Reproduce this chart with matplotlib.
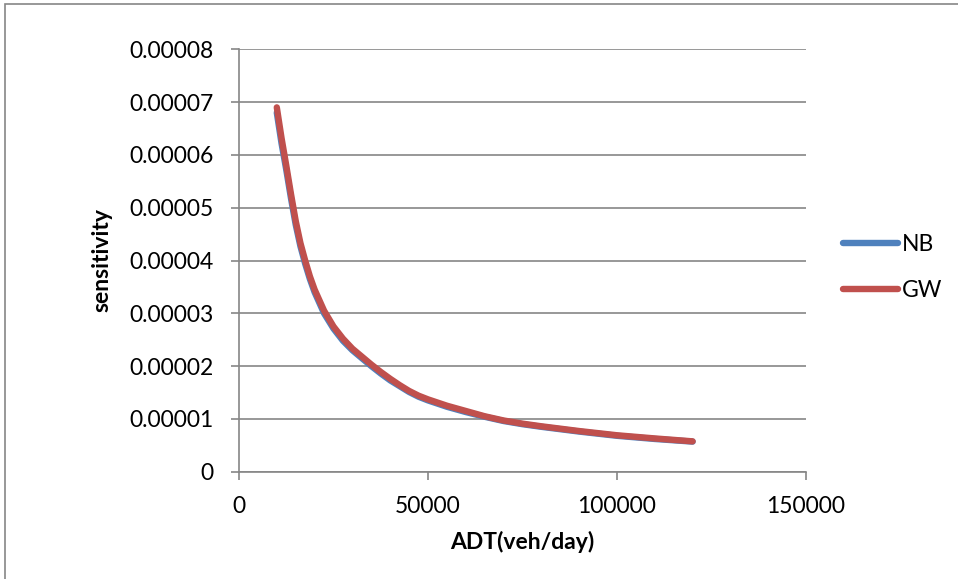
import matplotlib
matplotlib.use("Agg")
import matplotlib.pyplot as plt
from matplotlib.patches import Rectangle

# ADT (veh/day) and the sensitivity of each model
adt = [10000, 11250, 12500, 13750, 15000, 16250, 17500, 18750, 20000, 22500, 25000, 27500,
       30000, 32500, 35000, 37500, 40000, 42500, 45000, 47500, 50000, 52500, 55000, 57500,
       60000, 65000, 70000, 75000, 80000, 90000, 100000, 110000, 120000]
nb = [6.80e-5, 6.22e-5, 5.72e-5, 5.18e-5, 4.68e-5, 4.27e-5, 3.94e-5, 3.65e-5, 3.40e-5,
      3.00e-5, 2.71e-5, 2.48e-5, 2.30e-5, 2.15e-5, 2.00e-5, 1.86e-5, 1.73e-5, 1.62e-5,
      1.51e-5, 1.42e-5, 1.35e-5, 1.29e-5, 1.23e-5, 1.18e-5, 1.13e-5, 1.04e-5, 0.96e-5,
      0.90e-5, 0.85e-5, 0.76e-5, 0.68e-5, 0.62e-5, 0.57e-5]
gw = [6.90e-5, 6.32e-5, 5.80e-5, 5.26e-5, 4.75e-5, 4.33e-5, 4.00e-5, 3.70e-5, 3.45e-5,
      3.05e-5, 2.75e-5, 2.52e-5, 2.33e-5, 2.18e-5, 2.03e-5, 1.89e-5, 1.76e-5, 1.64e-5,
      1.53e-5, 1.44e-5, 1.37e-5, 1.31e-5, 1.25e-5, 1.20e-5, 1.15e-5, 1.05e-5, 0.97e-5,
      0.91e-5, 0.86e-5, 0.77e-5, 0.69e-5, 0.63e-5, 0.575e-5]

x_ticks = [0, 50000, 100000, 150000]
x_tick_labels = ["0", "50000", "100000", "150000"]
y_ticks = [0, 1e-5, 2e-5, 3e-5, 4e-5, 5e-5, 6e-5, 7e-5, 8e-5]
y_tick_labels = ["0", "0.00001", "0.00002", "0.00003", "0.00004",
                 "0.00005", "0.00006", "0.00007", "0.00008"]

plt.rcParams["font.family"] = ["Lato", "DejaVu Sans"]
grid_col = "#868686"
fs = 16.5

fig = plt.figure(figsize=(9.58, 5.79), dpi=100)
ax = fig.add_axes([239 / 958, 1 - 471.7 / 579, (806 - 239) / 958, (471.7 - 49.3) / 579])

ax.plot(adt, nb, color="#4F81BD", lw=4.6, solid_capstyle="round",
        solid_joinstyle="round", label="NB", zorder=3)
ax.plot(adt, gw, color="#C0504D", lw=4.6, solid_capstyle="round",
        solid_joinstyle="round", label="GW", zorder=4)

ax.set_xlim(0, 150000)
ax.set_ylim(0, 8e-5)
ax.set_xticks(x_ticks)
ax.set_xticklabels(x_tick_labels)
ax.set_yticks(y_ticks)
ax.set_yticklabels(y_tick_labels)
ax.grid(axis="y", color=grid_col, lw=1.2)
ax.set_axisbelow(True)

for side in ("top", "right"):
    ax.spines[side].set_visible(False)
for side in ("left", "bottom"):
    ax.spines[side].set_color(grid_col)
    ax.spines[side].set_linewidth(1.2)

ax.tick_params(axis="both", colors=grid_col, labelcolor="black", labelsize=fs,
               width=1.2, length=5.5, direction="out")
ax.tick_params(axis="y", pad=13)
ax.tick_params(axis="x", pad=12)

ax.set_xlabel("ADT(veh/day)", fontsize=fs, fontweight="bold", labelpad=10)
ax.set_ylabel("sensitivity", fontsize=fs, fontweight="bold", labelpad=12)

leg = fig.legend(loc="center left", bbox_to_anchor=(843 / 958, 1 - 267.5 / 579),
                 frameon=False, fontsize=fs, handlelength=2.4, handletextpad=0.15,
                 labelspacing=1.1, borderpad=0, borderaxespad=0)

# outer chart frame
fig.add_artist(Rectangle((4.5 / 958, -0.1), 1.2, 1.1 - 4.5 / 579, transform=fig.transFigure,
                         fill=False, edgecolor=grid_col, lw=1.2))

fig.savefig("out.png", dpi=100)
